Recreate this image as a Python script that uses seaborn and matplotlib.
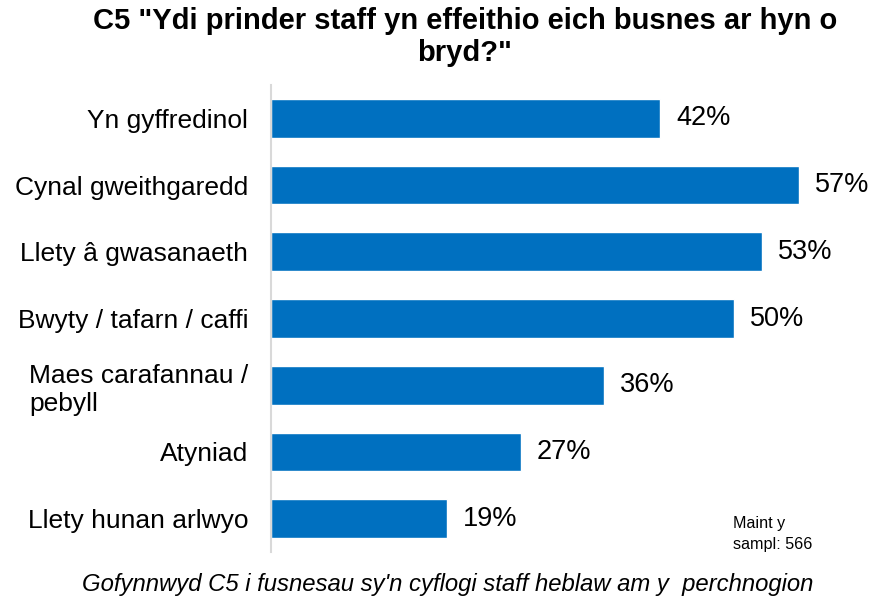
import matplotlib
matplotlib.use("Agg")
import matplotlib.pyplot as plt
import seaborn as sns
import pandas as pd

categories = [
    "Yn gyffredinol",
    "Cynal gweithgaredd",
    "Llety â gwasanaeth",
    "Bwyty / tafarn / caffi",
    "Maes carafannau /\npebyll",
    "Atyniad",
    "Llety hunan arlwyo",
]
values = [42, 57, 53, 50, 36, 27, 19]
value_labels = ["42%", "57%", "53%", "50%", "36%", "27%", "19%"]

title = 'C5 "Ydi prinder staff yn effeithio eich busnes ar hyn o\nbryd?"'
caption = "Gofynnwyd C5 i fusnesau sy'n cyflogi staff heblaw am y  perchnogion"
sample_note = "Maint y\nsampl: 566"

sns.set_theme(style="white")
plt.rcParams["font.family"] = ["Liberation Sans", "DejaVu Sans"]
plt.rcParams["text.color"] = "black"

df = pd.DataFrame({"cat": categories, "val": values})

fig = plt.figure(figsize=(8.71, 5.99), dpi=100)
ax = fig.add_axes([271 / 871, 47 / 599, 589 / 871, 467 / 599])

sns.barplot(data=df, x="val", y="cat", orient="h", color="#0070C0",
            saturation=1, width=0.58, ax=ax)

ax.set_xlim(0, 63.6)
ax.set_ylim(6.5, -0.5)
ax.set_xlabel("")
ax.set_ylabel("")
ax.set_xticks([])
ax.tick_params(axis="y", length=0, pad=16.5, labelsize=19, labelcolor="black")
for lbl in ax.get_yticklabels():
    lbl.set_multialignment("left")

for sp in ["top", "right", "bottom"]:
    ax.spines[sp].set_visible(False)
ax.spines["left"].set_color("#d9d9d9")
ax.spines["left"].set_linewidth(1.5)

for i, (v, t) in enumerate(zip(values, value_labels)):
    ax.annotate(t, xy=(v, i), xytext=(11.5, 0), textcoords="offset points",
                va="center", ha="left", fontsize=19.5, color="black")

fig.text(465 / 871, 1 - 37 / 599, title, ha="center", va="center",
         fontsize=21, fontweight="bold", linespacing=1.15, color="black")
fig.text(448 / 871, 1 - 584 / 599, caption, ha="center", va="center",
         fontsize=17.2, style="italic", color="black")
fig.text(733 / 871, 1 - 534 / 599, sample_note, ha="left", va="center",
         fontsize=11.6, linespacing=1.55, color="black")

fig.savefig("out.png", dpi=100)
